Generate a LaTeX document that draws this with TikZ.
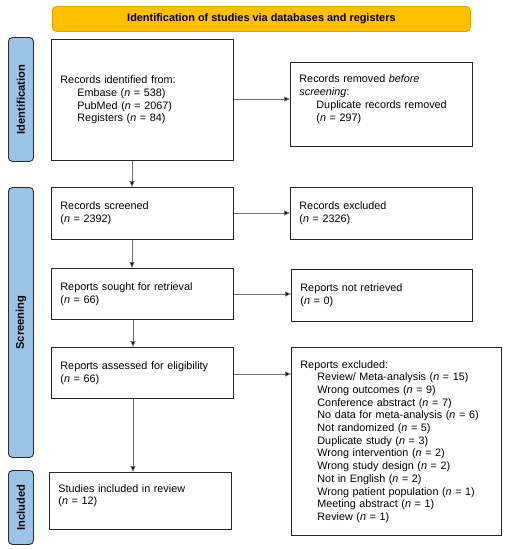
\documentclass[tikz,border=0pt]{standalone}
\usepackage{fontspec}
\setmainfont{Liberation Sans}
\usetikzlibrary{arrows.meta}
\definecolor{banner}{HTML}{FFC000}
\definecolor{bannerline}{HTML}{D9A300}
\definecolor{tab}{HTML}{9DC3E6}
\definecolor{tabline}{HTML}{2B2B2B}
\definecolor{arrowgray}{HTML}{6E6E6E}
\tikzset{
  box/.style={draw=black!85, line width=0.9pt, inner xsep=9pt, inner ysep=0pt, align=left, font=\fontsize{10.8}{12.7}\selectfont, anchor=north west},
  sidetab/.style={draw=tabline, fill=tab, rounded corners=4pt, line width=0.9pt, anchor=north west},
  tablabel/.style={rotate=90, font=\bfseries\fontsize{11.2}{12}\selectfont},
  flow/.style={draw=arrowgray, line width=0.8pt, -{Triangle[length=6pt,width=5pt,fill=black]}}
}
\newcommand{\ind}{\hspace*{17pt}}
\begin{document}
\begin{tikzpicture}[x=1pt,y=-1pt]
\useasboundingbox (0,0) rectangle (509,550);
% banner
\node[draw=bannerline, fill=banner, rounded corners=4pt, line width=0.8pt, anchor=north west, minimum width=418pt, minimum height=25pt, font=\bfseries\fontsize{10.9}{12}\selectfont] (banner) at (52,6) {Identification of studies via databases and registers};
% side tabs
\node[sidetab, minimum width=25pt, minimum height=124pt] (tabid) at (8,37) {};
\node[tablabel] at (tabid.center) {Identification};
\node[sidetab, minimum width=25pt, minimum height=270pt] (tabsc) at (8,187) {};
\node[tablabel] at (tabsc.center) {Screening};
\node[sidetab, minimum width=25pt, minimum height=74pt] (tabin) at (8,470) {};
\node[tablabel] at (tabin.center) {Included};
% boxes
\node[box, minimum width=182pt, minimum height=121pt, text width=164pt] (ident) at (51,39)
 {Records identified from:\\ \ind Embase (\textit{n} = 538)\\ \ind PubMed (\textit{n} = 2067)\\ \ind Registers (\textit{n} = 84)};
\node[box, minimum width=182pt, minimum height=84pt, text width=164pt] (removed) at (290,62)
 {Records removed \textit{before}\\ \textit{screening}:\\ \ind Duplicate records removed\\ \ind (\textit{n} = 297)\\ \mbox{}};
\node[box, minimum width=182pt, minimum height=52pt, text width=164pt] (screened) at (51,187)
 {Records screened\\ (\textit{n} = 2392)};
\node[box, minimum width=182pt, minimum height=52pt, text width=164pt] (excluded) at (290,187)
 {Records excluded\\ (\textit{n} = 2326)};
\node[box, minimum width=182pt, minimum height=51pt, text width=164pt] (sought) at (51,268)
 {Reports sought for retrieval\\ (\textit{n} = 66)};
\node[box, minimum width=181pt, minimum height=52pt, text width=163pt] (notret) at (291,269)
 {Reports not retrieved\\ (\textit{n} = 0)};
\node[box, minimum width=182pt, minimum height=51pt, text width=164pt] (assessed) at (51,347)
 {Reports assessed for eligibility\\ (\textit{n} = 66)};
\node[box, minimum width=210pt, minimum height=188pt, text width=192pt] (repexcl) at (291,347)
 {Reports excluded:\\
 \ind Review/ Meta-analysis (\textit{n} = 15)\\
 \ind Wrong outcomes (\textit{n} = 9)\\
 \ind Conference abstract (\textit{n} = 7)\\
 \ind No data for meta-analysis (\textit{n} = 6)\\
 \ind Not randomized (\textit{n} = 5)\\
 \ind Duplicate study (\textit{n} = 3)\\
 \ind Wrong intervention (\textit{n} = 2)\\
 \ind Wrong study design (\textit{n} = 2)\\
 \ind Not in English (\textit{n} = 2)\\
 \ind Wrong patient population (\textit{n} = 1)\\
 \ind Meeting abstract (\textit{n} = 1)\\
 \ind Review (\textit{n} = 1)};
\node[box, minimum width=182pt, minimum height=57pt, text width=164pt] (included) at (49,472)
 {Studies included in review\\ (\textit{n} = 12)\\ \mbox{}};
% arrows
\draw[flow] (ident.east |- 0,99) -- (removed.west |- 0,99);
\draw[flow] (ident.south -| 132,0) -- (screened.north -| 132,0);
\draw[flow] (screened.east |- 0,213) -- (excluded.west |- 0,213);
\draw[flow] (screened.south -| 132,0) -- (sought.north -| 132,0);
\draw[flow] (sought.east |- 0,294) -- (notret.west |- 0,294);
\draw[flow] (sought.south -| 133,0) -- (assessed.north -| 133,0);
\draw[flow] (assessed.east |- 0,374) -- (repexcl.west |- 0,374);
\draw[flow] (assessed.south -| 133,0) -- (included.north -| 133,0);
\end{tikzpicture}
\end{document}
